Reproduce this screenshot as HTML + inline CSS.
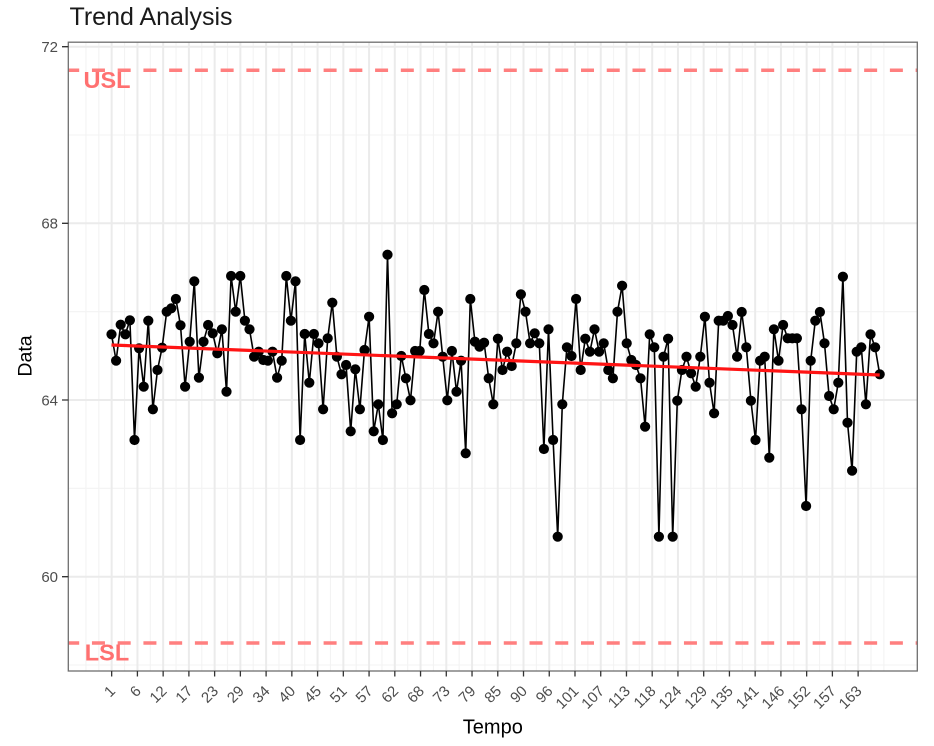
<!DOCTYPE html>
<html>
<head>
<meta charset="utf-8">
<style>
  html, body { margin:0; padding:0; background:#fff; }
  svg { display:block; }
  text { font-family: "Liberation Sans", "DejaVu Sans", sans-serif; }
</style>
</head>
<body>
<svg width="934" height="746" viewBox="0 0 934 746" xmlns="http://www.w3.org/2000/svg">
  <defs>
    <clipPath id="panel"><rect x="68.3" y="42.2" width="849" height="628.8"/></clipPath>
    <marker id="dot" markerWidth="12" markerHeight="12" refX="6" refY="6" markerUnits="userSpaceOnUse" overflow="visible">
      <circle cx="6" cy="6" r="5.1" fill="#000"/>
    </marker>
  </defs>
  <rect x="0" y="0" width="934" height="746" fill="#fff"/>

  <!-- Title -->
  <text x="69.5" y="25" font-size="25" fill="#1a1a1a">Trend Analysis</text>

  <g clip-path="url(#panel)">
    <!-- minor horizontal gridlines -->
    <path d="M68.3 665H917.3M68.3 488.3H917.3M68.3 311.7H917.3M68.3 135H917.3" stroke="#F3F3F3" stroke-width="1.1" fill="none"/>
    <!-- minor vertical gridlines -->
    <path d="M85.93 42V671M98.8 42V671M124.54 42V671M150.28 42V671M176.02 42V671M201.76 42V671M227.5 42V671M253.24 42V671M278.98 42V671M304.72 42V671M330.46 42V671M356.2 42V671M381.94 42V671M407.68 42V671M433.42 42V671M459.16 42V671M484.9 42V671M510.64 42V671M536.38 42V671M562.12 42V671M587.86 42V671M613.6 42V671M639.34 42V671M665.08 42V671M690.82 42V671M716.56 42V671M742.3 42V671M768.04 42V671M793.78 42V671M819.52 42V671M845.26 42V671M871 42V671M883.87 42V671" stroke="#F3F3F3" stroke-width="1.1" fill="none"/>
    <!-- major horizontal gridlines -->
    <path d="M68.3 576.7H917.3M68.3 400H917.3M68.3 223.3H917.3M68.3 46.7H917.3" stroke="#EBEBEB" stroke-width="2" fill="none"/>
    <!-- major vertical gridlines -->
    <path d="M111.67 42V671M137.41 42V671M163.15 42V671M188.89 42V671M214.63 42V671M240.37 42V671M266.11 42V671M291.85 42V671M317.59 42V671M343.33 42V671M369.07 42V671M394.81 42V671M420.55 42V671M446.29 42V671M472.03 42V671M497.77 42V671M523.51 42V671M549.25 42V671M574.99 42V671M600.73 42V671M626.47 42V671M652.21 42V671M677.95 42V671M703.69 42V671M729.43 42V671M755.17 42V671M780.91 42V671M806.65 42V671M832.39 42V671M858.13 42V671" stroke="#EBEBEB" stroke-width="2" fill="none"/>

    <!-- USL / LSL dashed lines -->
    <line x1="66.2" y1="70.3" x2="930" y2="70.3" stroke="#FF7F7F" stroke-width="3.5" stroke-dasharray="13 12.74"/>
    <line x1="66.2" y1="643" x2="930" y2="643" stroke="#FF7F7F" stroke-width="3.5" stroke-dasharray="13 12.74"/>
    <text x="107" y="88" font-size="23.5" font-weight="bold" fill="#FF7070" text-anchor="middle">USL</text>
    <text x="107" y="660.5" font-size="23.5" font-weight="bold" fill="#FF7070" text-anchor="middle">LSL</text>

    <!-- data series -->
    <polyline fill="none" stroke="#000" stroke-width="1.6" stroke-linejoin="round"
      marker-start="url(#dot)" marker-mid="url(#dot)" marker-end="url(#dot)"
      points="111.5,334.3 116.1,360.7 120.7,324.7 125.3,334.3 129.9,320.3 134.5,440 139.1,348.3 143.7,386.7 148.3,320.7 152.9,409.3 157.5,370 162.1,347.7 166.7,311.7 171.3,308.3 175.9,299 180.5,325.3 185.1,386.7 189.7,341.7 194.3,281.3 198.9,377.7 203.5,341.7 208.1,325 212.7,333.3 217.3,353.3 221.9,329.3 226.5,391.7 231.1,276 235.7,311.7 240.3,276 244.9,320.7 249.5,329.3 254.1,356.7 258.7,351.7 263.3,360 267.9,360.7 272.5,351.7 277.1,377.7 281.7,360.7 286.3,276 290.9,320.7 295.5,281.3 300.1,440 304.7,334 309.3,382.7 313.9,334 318.5,343.3 323.1,409.3 327.7,338.3 332.3,302.7 336.9,356.7 341.5,374.3 346.1,365 350.7,431.3 355.3,369.3 359.9,409.3 364.5,350 369.1,316.7 373.7,431.3 378.3,404.3 382.9,440 387.5,254.7 392.1,413.3 396.7,404.3 401.3,356 405.9,378.3 410.5,400.3 415.1,351 419.7,351 424.3,290 428.9,334 433.5,343.3 438.1,311.7 442.7,356.7 447.3,400.3 451.9,351 456.5,391.7 461.1,360.7 465.7,453.3 470.3,299 474.9,341.7 479.5,346.7 484.1,342.7 488.7,378.3 493.3,404.3 497.9,338.7 502.5,370 507.1,351.7 511.7,366 516.3,343.3 520.9,294.3 525.5,311.7 530.1,343.3 534.7,333.3 539.3,343.3 543.9,449 548.5,329.3 553.1,440 557.7,536.7 562.3,404.3 566.9,347.3 571.5,356 576.1,299 580.7,370 585.3,338.7 589.9,351.7 594.5,329.3 599.1,351.7 603.7,343.3 608.3,370 612.9,378.3 617.5,311.7 622.1,285.7 626.7,343.3 631.3,360 635.9,365 640.5,378.3 645.1,426.7 649.7,334.3 654.3,347.3 658.9,536.7 663.5,356.7 668.1,338.7 672.7,536.7 677.3,400.7 681.9,370 686.5,356.7 691.1,373.3 695.7,386.7 700.3,356.7 704.9,316.7 709.5,382.7 714.1,413.3 718.7,320.7 723.3,320.7 727.9,316 732.5,325 737.1,356.7 741.7,312 746.3,347.3 750.9,400.7 755.5,440 760.1,360.7 764.7,356.7 769.3,457.7 773.9,329.3 778.5,360.7 783.1,325 787.7,338.3 792.3,338.3 796.9,338.3 801.5,409.3 806.1,506 810.7,360.7 815.3,320.7 819.9,312 824.5,343.3 829.1,396 833.7,409.3 838.3,382.7 842.9,276.7 847.5,422.7 852.1,470.7 856.7,351.7 861.3,347.3 865.9,404.3 870.5,334.3 875.1,347.3 879.7,374.3"/>

    <!-- trend line -->
    <line x1="111.5" y1="345" x2="879.7" y2="375" stroke="#FF1414" stroke-width="3.2"/>
  </g>

  <!-- panel border -->
  <rect x="68.3" y="42.2" width="849" height="628.8" fill="none" stroke="#6e6e6e" stroke-width="1.3"/>

  <!-- y ticks -->
  <path d="M62 576.7H68.3M62 400H68.3M62 223.3H68.3M62 46.7H68.3" stroke="#333" stroke-width="1.3"/>
  <g font-size="15" fill="#4D4D4D" text-anchor="end">
    <text x="58" y="582">60</text>
    <text x="58" y="405.3">64</text>
    <text x="58" y="228.6">68</text>
    <text x="58" y="52">72</text>
  </g>

  <!-- x ticks -->
  <path d="M111.67 671V676.5M137.41 671V676.5M163.15 671V676.5M188.89 671V676.5M214.63 671V676.5M240.37 671V676.5M266.11 671V676.5M291.85 671V676.5M317.59 671V676.5M343.33 671V676.5M369.07 671V676.5M394.81 671V676.5M420.55 671V676.5M446.29 671V676.5M472.03 671V676.5M497.77 671V676.5M523.51 671V676.5M549.25 671V676.5M574.99 671V676.5M600.73 671V676.5M626.47 671V676.5M652.21 671V676.5M677.95 671V676.5M703.69 671V676.5M729.43 671V676.5M755.17 671V676.5M780.91 671V676.5M806.65 671V676.5M832.39 671V676.5M858.13 671V676.5" stroke="#333" stroke-width="1.3"/>
  <g font-size="15" fill="#4D4D4D" text-anchor="end">
    <text transform="translate(116.2,692) rotate(-45)">1</text>
    <text transform="translate(141.9,692) rotate(-45)">6</text>
    <text transform="translate(167.6,692) rotate(-45)">12</text>
    <text transform="translate(193.4,692) rotate(-45)">17</text>
    <text transform="translate(219.1,692) rotate(-45)">23</text>
    <text transform="translate(244.9,692) rotate(-45)">29</text>
    <text transform="translate(270.6,692) rotate(-45)">34</text>
    <text transform="translate(296.3,692) rotate(-45)">40</text>
    <text transform="translate(322.1,692) rotate(-45)">45</text>
    <text transform="translate(347.8,692) rotate(-45)">51</text>
    <text transform="translate(373.6,692) rotate(-45)">57</text>
    <text transform="translate(399.3,692) rotate(-45)">62</text>
    <text transform="translate(425.0,692) rotate(-45)">68</text>
    <text transform="translate(450.8,692) rotate(-45)">73</text>
    <text transform="translate(476.5,692) rotate(-45)">79</text>
    <text transform="translate(502.3,692) rotate(-45)">85</text>
    <text transform="translate(528.0,692) rotate(-45)">90</text>
    <text transform="translate(553.7,692) rotate(-45)">96</text>
    <text transform="translate(579.5,692) rotate(-45)">101</text>
    <text transform="translate(605.2,692) rotate(-45)">107</text>
    <text transform="translate(631.0,692) rotate(-45)">113</text>
    <text transform="translate(656.7,692) rotate(-45)">118</text>
    <text transform="translate(682.4,692) rotate(-45)">124</text>
    <text transform="translate(708.2,692) rotate(-45)">129</text>
    <text transform="translate(733.9,692) rotate(-45)">135</text>
    <text transform="translate(759.7,692) rotate(-45)">141</text>
    <text transform="translate(785.4,692) rotate(-45)">146</text>
    <text transform="translate(811.1,692) rotate(-45)">152</text>
    <text transform="translate(836.9,692) rotate(-45)">157</text>
    <text transform="translate(862.6,692) rotate(-45)">163</text>
  </g>

  <!-- axis titles -->
  <text x="492.8" y="733.3" font-size="20" fill="#000" text-anchor="middle">Tempo</text>
  <text transform="translate(31.5,356) rotate(-90)" font-size="19.5" fill="#000" text-anchor="middle">Data</text>
</svg>
</body>
</html>
